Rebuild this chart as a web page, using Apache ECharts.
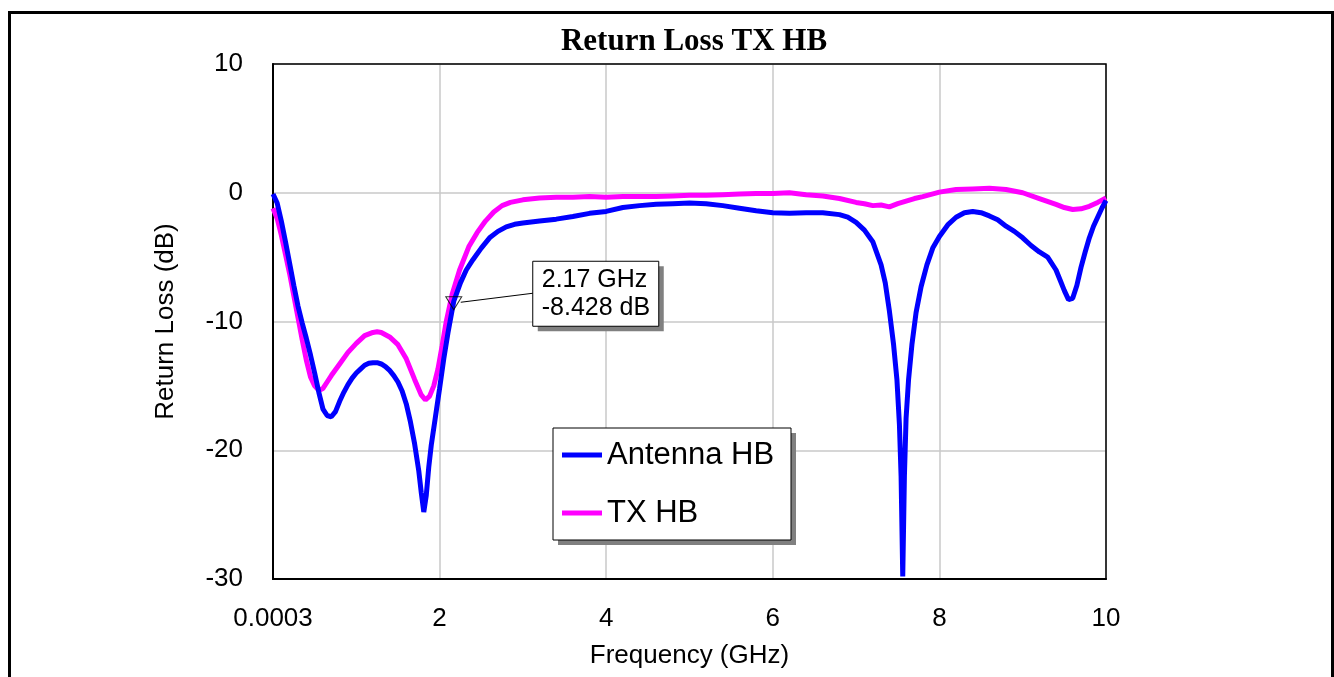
<!DOCTYPE html>
<html>
<head>
<meta charset="utf-8">
<script src="https://cdn.jsdelivr.net/npm/echarts@6/dist/echarts.min.js"></script>
<style>html,body{margin:0;padding:0;background:#fff;}#c{width:1334px;height:677px;}</style>
</head>
<body>
<div id="c"></div>
<script>
const antennaFreq = [0.0003,0.05,0.1,0.15,0.2,0.25,0.3,0.35,0.4,0.45,0.5,0.55,0.6,0.65,0.7,0.75,0.8,0.85,0.9,0.95,1.0,1.05,1.1,1.15,1.2,1.25,1.3,1.35,1.4,1.45,1.5,1.55,1.6,1.65,1.7,1.75,1.78,1.81,1.84,1.87,1.9,1.95,2.0,2.05,2.1,2.17,2.25,2.32,2.4,2.5,2.6,2.7,2.8,2.9,3.0,3.2,3.4,3.6,3.8,4.0,4.2,4.4,4.6,4.8,5.0,5.2,5.4,5.6,5.8,6.0,6.2,6.4,6.6,6.8,6.9,7.0,7.1,7.2,7.3,7.35,7.4,7.45,7.49,7.52,7.54,7.56,7.58,7.6,7.63,7.67,7.72,7.78,7.85,7.92,8.0,8.1,8.2,8.3,8.4,8.5,8.6,8.7,8.8,8.9,9.0,9.1,9.2,9.3,9.4,9.45,9.5,9.55,9.6,9.65,9.7,9.75,9.8,9.85,9.9,9.95,10.0];
const antennaDb = [-0.1,-0.8,-2.2,-3.8,-5.5,-7.2,-8.8,-10.1,-11.3,-12.6,-14.0,-15.5,-16.8,-17.3,-17.4,-17.0,-16.2,-15.5,-14.9,-14.4,-14.0,-13.7,-13.4,-13.25,-13.2,-13.2,-13.3,-13.5,-13.8,-14.2,-14.7,-15.4,-16.4,-17.8,-19.5,-21.6,-23.3,-24.8,-23.5,-21.3,-19.6,-17.4,-15.2,-12.9,-10.9,-8.428,-7.0,-6.0,-5.2,-4.3,-3.5,-3.0,-2.65,-2.45,-2.35,-2.2,-2.05,-1.85,-1.6,-1.45,-1.15,-1.0,-0.9,-0.85,-0.8,-0.85,-1.0,-1.2,-1.4,-1.55,-1.6,-1.55,-1.55,-1.7,-1.9,-2.3,-2.9,-3.8,-5.6,-7.0,-9.2,-11.8,-14.5,-18.0,-22.0,-29.8,-22.0,-17.5,-14.5,-11.8,-9.3,-7.3,-5.6,-4.3,-3.4,-2.5,-1.9,-1.55,-1.45,-1.55,-1.8,-2.1,-2.6,-3.0,-3.5,-4.1,-4.6,-5.0,-6.0,-6.8,-7.6,-8.3,-8.2,-7.2,-5.8,-4.6,-3.5,-2.6,-1.9,-1.2,-0.6];
const txFreq = [0.0003,0.05,0.1,0.15,0.2,0.25,0.3,0.35,0.4,0.45,0.5,0.55,0.6,0.65,0.7,0.8,0.9,1.0,1.1,1.2,1.25,1.3,1.4,1.5,1.6,1.7,1.78,1.83,1.88,1.93,1.98,2.03,2.08,2.15,2.24,2.35,2.45,2.55,2.65,2.75,2.85,3.0,3.2,3.4,3.6,3.8,4.0,4.2,4.4,4.6,4.8,5.0,5.2,5.4,5.6,5.8,6.0,6.2,6.4,6.6,6.8,7.0,7.1,7.2,7.3,7.4,7.5,7.6,7.7,7.8,8.0,8.2,8.4,8.6,8.8,9.0,9.2,9.4,9.5,9.6,9.7,9.8,9.9,10.0];
const txDb = [-1.2,-2.0,-3.3,-4.8,-6.3,-8.0,-9.7,-11.4,-13.0,-14.3,-15.0,-15.35,-15.2,-14.7,-14.2,-13.3,-12.4,-11.7,-11.1,-10.85,-10.8,-10.85,-11.2,-11.8,-12.9,-14.5,-15.7,-16.1,-15.8,-15.0,-13.7,-11.9,-10.0,-7.9,-6.0,-4.2,-3.1,-2.2,-1.5,-1.0,-0.75,-0.55,-0.4,-0.35,-0.35,-0.3,-0.35,-0.3,-0.3,-0.3,-0.25,-0.2,-0.2,-0.15,-0.1,-0.05,-0.05,0.0,-0.15,-0.25,-0.45,-0.75,-0.85,-1.0,-0.95,-1.1,-0.85,-0.65,-0.45,-0.3,0.05,0.25,0.3,0.35,0.25,0.0,-0.45,-0.9,-1.15,-1.3,-1.25,-1.05,-0.75,-0.4];
const seriesNames = ['Antenna HB','TX HB'];
const xTickLabels = ['0.0003','2','4','6','8','10'];
const markerFreq = 2.17;
const markerDb = -8.428;

const FONT = 'Liberation Sans, Arial, sans-serif';
const chart = echarts.init(document.getElementById('c'));
const zip = (a,b)=>a.map((v,i)=>[v,b[i]]);
const option = {
  animation:false,
  backgroundColor:'#fff',
  title:{text:'Return Loss TX HB',left:689,top:21,textAlign:'center',
    textStyle:{fontFamily:'Liberation Serif, Times New Roman, serif',fontWeight:'bold',fontSize:31,color:'#000'}},
  grid:{left:273,top:64,width:833,height:515,show:false},
  xAxis:{type:'value',min:0,max:10,interval:2,
    name:'Frequency (GHz)',nameLocation:'middle',nameGap:64,
    nameTextStyle:{fontFamily:FONT,fontSize:26,color:'#000'},
    axisLine:{onZero:false,lineStyle:{color:'#000',width:2}},axisTick:{show:false},
    axisLabel:{fontFamily:FONT,fontSize:26,color:'#000',margin:27,formatter:(v)=>xTickLabels[Math.round(v/2)]},
    splitLine:{lineStyle:{color:'#c8c8c8',width:1.5}}},
  yAxis:{type:'value',min:-30,max:10,interval:10,
    name:'Return Loss (dB)',nameLocation:'middle',nameGap:94,
    nameTextStyle:{fontFamily:FONT,fontSize:26,color:'#000'},
    axisLine:{show:true,onZero:false,lineStyle:{color:'#000',width:2}},axisTick:{show:false},
    axisLabel:{fontFamily:FONT,fontSize:26,color:'#000',margin:30},
    splitLine:{lineStyle:{color:'#c8c8c8',width:1.5}}},
  legend:{orient:'vertical',left:553,top:428,padding:[10,12,10,9],itemGap:24,itemTextGap:9,
    itemWidth:40,itemHeight:5,itemStyle:{borderWidth:0},z:20,
    textStyle:{fontFamily:FONT,fontSize:31,color:'#000',lineHeight:34},
    data:[{name:seriesNames[0],icon:'rect'},{name:seriesNames[1],icon:'rect'}]},
  series:[
    {name:seriesNames[0],type:'line',data:zip(antennaFreq,antennaDb),showSymbol:false,symbol:'none',
      lineStyle:{color:'#0000ff',width:5},itemStyle:{color:'#0000ff'},z:3},
    {name:seriesNames[1],type:'line',data:zip(txFreq,txDb),showSymbol:false,symbol:'none',
      lineStyle:{color:'#ff00ff',width:5},itemStyle:{color:'#ff00ff'},z:2},
    {name:'marker',type:'scatter',data:[[markerFreq,markerDb]],symbol:'triangle',symbolRotate:180,
      symbolSize:[16,13],symbolOffset:[0,2],itemStyle:{color:'rgba(0,0,0,0)',borderColor:'#000',borderWidth:1},z:5,silent:true}
  ]
};
chart.setOption(option);
const p = chart.convertToPixel({gridIndex:0},[markerFreq,markerDb]);
const tl = chart.convertToPixel({gridIndex:0},[0,10]);
const br = chart.convertToPixel({gridIndex:0},[10,-30]);
const bx = p[0]+79, by = p[1]-40, bw = 126, bh = 65;
const lx = 553, ly = 428, lw = 238, lh = 112;
chart.setOption({graphic:[
  {type:'rect',left:7,top:10,shape:{x:0,y:0,width:1323,height:700},style:{fill:'none',stroke:'#000',lineWidth:3},z:100},
  {type:'rect',shape:{x:tl[0],y:tl[1],width:br[0]-tl[0],height:br[1]-tl[1]},style:{fill:'none',stroke:'#000',lineWidth:1.5},z:1,silent:true},
  {type:'rect',shape:{x:lx+5,y:ly+5,width:lw,height:lh},style:{fill:'#808080'},z:10},
  {type:'rect',shape:{x:lx,y:ly,width:lw,height:lh},style:{fill:'#fff',stroke:'#000',lineWidth:1},z:11},
  {type:'rect',shape:{x:bx+5,y:by+5,width:bw,height:bh},style:{fill:'#808080'},z:101},
  {type:'rect',shape:{x:bx,y:by,width:bw,height:bh},style:{fill:'#fff',stroke:'#000',lineWidth:1},z:102},
  {type:'line',shape:{x1:p[0]+7,y1:p[1]+1,x2:bx,y2:p[1]-8},style:{stroke:'#000',lineWidth:1},z:102},
  {type:'text',x:bx+9,y:by+5,style:{text:markerFreq.toFixed(2)+' GHz\n'+markerDb.toFixed(3)+' dB',
    font:'25px '+FONT,fill:'#000',lineHeight:28},z:103}
]});
</script>
</body>
</html>
